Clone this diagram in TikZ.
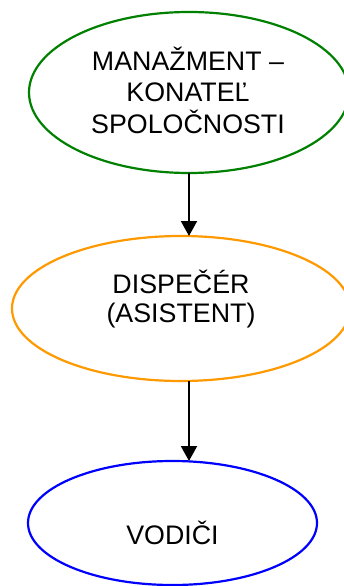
\documentclass[tikz,border=0pt]{standalone}
\usepackage{fontspec}
\setmainfont{Liberation Sans}
\usetikzlibrary{shapes.geometric,arrows.meta}
\definecolor{cgreen}{RGB}{0,128,0}
\definecolor{corange}{RGB}{255,153,0}
\definecolor{cblue}{RGB}{0,0,255}
\begin{document}
\begin{tikzpicture}[x=1pt,y=-1pt,
  ell/.style={ellipse,draw,line width=2.2pt,inner sep=0pt,outer sep=0pt},
  lbl/.style={align=center,inner sep=0pt,font=\fontsize{26.8}{31.5}\selectfont},
  conn/.style={line width=2pt,-{Triangle[width=16pt,length=15pt]}}]
\useasboundingbox (0,0) rectangle (343,586);
\node[ell,draw=cgreen,minimum width=320pt,minimum height=161pt] (m) at (189,92.5) {};
\node[ell,draw=corange,minimum width=338pt,minimum height=145pt] (d) at (181,308.5) {};
\node[ell,draw=cblue,minimum width=289pt,minimum height=124pt] (v) at (172.5,523) {};
\node[lbl] (mt) at (188,90) {MANAŽMENT –\\KONATEĽ\\SPOLOČNOSTI};
\node[lbl,font=\fontsize{26.8}{29.5}\selectfont] (dt) at (181,299) {DISPEČÉR\\(ASISTENT)};
\node[lbl] (vt) at (172.5,532.5) {VODIČI};
\draw[conn] (m.south) -- (m.south |- d.north);
\draw[conn] (d.south -| m.south) -- (v.north -| m.south);
\end{tikzpicture}
\end{document}
